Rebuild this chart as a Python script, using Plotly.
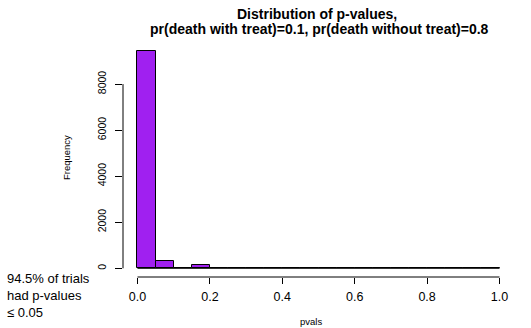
import plotly.graph_objects as go

# Histogram data (bins of width 0.05 from 0 to 1)
bin_edges = [round(i * 0.05, 2) for i in range(21)]
counts = [9450, 320, 25, 140, 0, 10, 10, 10, 0, 0, 0, 0, 5, 5, 0, 0, 0, 0, 0, 10]
x_ticks = [0.0, 0.2, 0.4, 0.6, 0.8, 1.0]
x_ticklabels = ["0.0", "0.2", "0.4", "0.6", "0.8", "1.0"]
y_ticks = [0, 2000, 4000, 6000, 8000]
y_ticklabels = ["0", "2000", "4000", "6000", "8000"]

centers = [(bin_edges[i] + bin_edges[i + 1]) / 2 for i in range(len(counts))]
widths = [bin_edges[i + 1] - bin_edges[i] for i in range(len(counts))]

W, H = 531, 328
L, R, T, B = 123, 16.5, 42, 51
FONT = "Liberation Sans, Arial, Helvetica, sans-serif"

fig = go.Figure()
fig.add_trace(go.Bar(
    x=centers, y=counts, width=widths,
    marker=dict(color="#A020F0", line=dict(color="black", width=1)),
    hoverinfo="x+y", showlegend=False,
))
# zero-height bins drawn as a baseline (as R's hist does)
fig.add_trace(go.Scatter(
    x=[bin_edges[0], bin_edges[-1]], y=[0, 0], mode="lines",
    line=dict(color="black", width=1), hoverinfo="skip", showlegend=False,
))

pw = W - L - R
ph = H - T - B
span = bin_edges[-1] - bin_edges[0]
xr = [bin_edges[0] - 0.04 * span, bin_edges[-1] + 0.04 * span]
yr = [-0.04 * max(counts), max(counts) * 1.04]

def px_x(p):
    return (p - L) / pw

def px_y(p):
    return (H - B - p) / ph

fig.update_layout(
    width=W, height=H,
    margin=dict(l=L, r=R, t=T, b=B, pad=0),
    paper_bgcolor="white", plot_bgcolor="white",
    font=dict(family=FONT, color="black"),
    xaxis=dict(range=xr, showgrid=False, zeroline=False, showline=False,
               tickmode="array", tickvals=x_ticks, ticktext=x_ticklabels,
               ticks="outside", ticklen=6, tickwidth=1, tickcolor="black",
               tickfont=dict(size=12.5, family=FONT), ticklabelstandoff=2),
    yaxis=dict(range=yr, showgrid=False, zeroline=False, showline=False,
               tickmode="array", tickvals=y_ticks, ticktext=y_ticklabels,
               ticks="outside", ticklen=7, tickwidth=1, tickcolor="black",
               tickangle=-90, tickfont=dict(size=10.5, family=FONT),
               ticklabelstandoff=5),
    bargap=0,
    shapes=[
        dict(type="line", xref="x", yref="paper", x0=x_ticks[0], x1=x_ticks[-1], y0=0, y1=0,
             line=dict(color="black", width=1)),
        dict(type="line", xref="paper", yref="y", x0=0, x1=0, y0=y_ticks[0], y1=y_ticks[-1],
             line=dict(color="black", width=1)),
    ],
    annotations=[
        dict(text="<b>Distribution of p-values,</b>", x=px_x(317), y=px_y(14), xref="paper", yref="paper",
             showarrow=False, xanchor="center", yanchor="middle", font=dict(size=14, family=FONT)),
        dict(text="<b>pr(death with treat)=0.1, pr(death without treat)=0.8</b>", x=px_x(320), y=px_y(29),
             xref="paper", yref="paper", showarrow=False, xanchor="center", yanchor="middle",
             font=dict(size=14, family=FONT)),
        dict(text="pvals", x=px_x(311), y=px_y(321), xref="paper", yref="paper",
             showarrow=False, xanchor="center", yanchor="middle", font=dict(size=9.5, family=FONT)),
        dict(text="Frequency", x=px_x(66), y=px_y(158), xref="paper", yref="paper", textangle=-90,
             showarrow=False, xanchor="center", yanchor="middle", font=dict(size=9.5, family=FONT)),
        dict(text="94.5% of trials<br>had p-values<br>≤ 0.05", x=px_x(5), y=px_y(295.5), xref="paper",
             yref="paper", showarrow=False, xanchor="left", yanchor="middle", align="left",
             font=dict(size=13, family=FONT)),
    ],
)

fig.write_html("out.html", config={"displayModeBar": False},
               post_script="document.body.style.margin='0';document.body.style.overflow='hidden';")
